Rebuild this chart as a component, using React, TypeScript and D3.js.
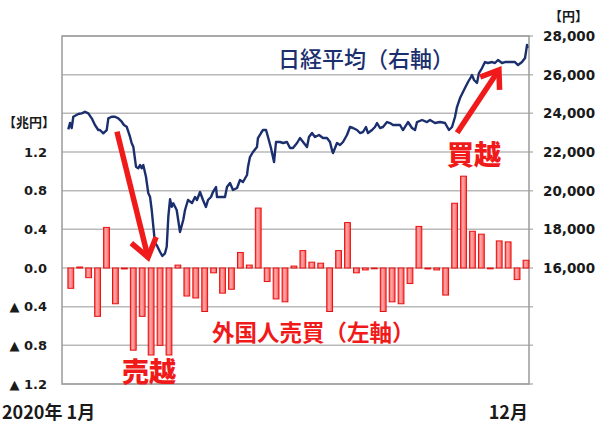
import React from "react";
import * as d3 from "d3";

// Weekly foreign investor net buying (trillion yen), 52 weeks of 2020
const weekIdx = d3.range(52);
const flows = [
  -0.21, 0.01, -0.1, -0.5, 0.42, -0.37, -0.01, -0.85, -0.5, -0.9,
  -0.8, -0.9, 0.03, -0.29, -0.31, -0.45, -0.05, -0.26, -0.22, 0.16,
  0.03, 0.62, -0.14, -0.32, -0.35, 0.02, 0.18, 0.06, 0.05, -0.45,
  0.18, 0.47, -0.05, -0.02, 0, -0.45, -0.35, -0.37, -0.16, 0.43,
  -0.01, -0.02, -0.28, 0.67, 0.95, 0.38, 0.35, 0, 0.28, 0.27,
  -0.12, 0.08,
];

// Nikkei average (yen): position in weeks and value
const nikkeiWeek = [
  0.2, 0.39, 0.58, 0.76, 1.31, 1.69, 2.06, 2.43, 2.81, 3.17, 3.54, 3.73, 4.1, 4.48, 4.66, 5.03,
  5.4, 5.77, 6.15, 6.4, 6.7, 7.07, 7.26, 7.44, 7.74, 7.99, 8.19, 8.37, 8.55, 8.85, 9.11, 9.3,
  9.49, 9.67, 9.86, 10.04, 10.41, 10.67, 10.97, 11.16, 11.34, 11.53, 11.72, 11.89, 12.27, 12.64,
  13.0, 13.2, 13.53, 13.98, 14.31, 14.53, 14.87, 15.2, 15.53, 15.76, 16.09, 16.31, 16.65, 16.76,
  17.32, 17.65, 17.87, 18.21, 18.54, 18.99, 19.32, 19.65, 20.1, 20.21, 20.43, 20.77, 21.21, 21.32,
  21.66, 21.88, 22.22, 22.44, 22.77, 23.11, 23.33, 23.77, 24.11, 24.55, 24.89, 25.22, 25.67, 26.0,
  26.34, 26.78, 27.0, 27.34, 27.67, 28.12, 28.56, 29.01, 29.34, 29.56, 29.68, 30.12, 30.46, 30.79,
  31.23, 31.57, 31.9, 32.35, 32.68, 33.02, 33.35, 33.57, 34.02, 34.35, 34.58, 34.91, 35.24, 35.69,
  36.02, 36.36, 36.8, 37.14, 37.47, 38.03, 38.47, 38.81, 39.03, 39.59, 40.14, 40.48, 41.03, 41.59,
  42.15, 42.59, 42.93, 43.26, 43.48, 43.82, 44.15, 44.37, 44.71, 45.04, 45.15, 45.38, 45.71, 45.93,
  46.27, 46.6, 46.94, 47.38, 47.71, 48.05, 48.49, 48.83, 49.38, 49.94, 50.28, 50.72, 51.06, 51.28,
  51.33,
];
const nikkeiValue = [
  23170, 23500, 23240, 23825, 23965, 24000, 24084, 24000, 23742, 23396, 23137, 23137, 22967, 23137, 23742, 23825,
  23825, 23742, 23567, 23396, 23308, 22791, 22449, 22274, 21239, 21156, 21327, 21156, 21327, 20722, 19863, 19688,
  19000, 18136, 17277, 17190, 16843, 16621, 16760, 17102, 18653, 19553, 19170, 19346, 19000, 17862,
  18483, 19000, 19517, 19362, 19672, 19517, 19931, 19517, 19155, 19517, 19672, 19931, 20189, 19672,
  19672, 19672, 20189, 20396, 20034, 20138, 20551, 20448, 20810, 21224, 21741, 22000, 22258, 22724,
  22982, 23137, 23137, 22775, 22206, 21482, 22517, 22517, 22465, 22517, 22206, 22206, 22465, 22724,
  22517, 22258, 22775, 22982, 22775, 22879, 22724, 22724, 22517, 22103, 21948, 22465, 22362, 22517,
  22879, 23293, 23241, 23137, 22982, 23034, 23293, 22982, 23137, 23293, 23499, 23241, 23293, 23551,
  23499, 23396, 23396, 23396, 23137, 23551, 23241, 23137, 23551, 23655, 23551, 23655, 23499, 23551,
  23499, 23137, 23293, 23810, 24327, 24792, 25103, 25310, 25620, 25879, 25982, 25723, 25568, 26085,
  26344, 26654, 26603, 26654, 26603, 26758, 26603, 26654, 26654, 26654, 26499, 26654, 26861, 27534,
  27378,
];

const leftTicks = [1.2, 0.8, 0.4, 0, -0.4, -0.8, -1.2];
const gridValues = [2.4, 2.0, 1.6, 1.2, 0.8, 0.4, 0, -0.4, -0.8, -1.2];
const rightTicks = [16000, 18000, 20000, 22000, 24000, 26000, 28000];

// Annotation arrows: [week, left-axis value] tail -> tip
const sellArrow = { from: [5.62, 1.41], to: [9.08, 0.11] };
const buyArrow = { from: [43.5, 1.4], to: [48.15, 2.05] };

const W = 600;
const H = 424;
const plot = { left: 62, right: 529, top: 36, bottom: 384 };

const NAVY = "#1b2f6e";
const RED = "#f01a1a";

function arrowPath(x1: number, y1: number, x2: number, y2: number, len: number, ang: number) {
  const a = Math.atan2(y1 - y2, x1 - x2);
  const w1 = [x2 + len * Math.cos(a + ang), y2 + len * Math.sin(a + ang)];
  const w2 = [x2 + len * Math.cos(a - ang), y2 + len * Math.sin(a - ang)];
  return {
    shaft: `M${x1},${y1}L${x2 - 2 * Math.cos(a + Math.PI)},${y2 - 2 * Math.sin(a + Math.PI)}`,
    head: `M${w1[0]},${w1[1]}L${x2},${y2}L${w2[0]},${w2[1]}`,
  };
}

export default function App() {
  const xBar = d3.scalePoint<number>().domain(weekIdx).range([70.8, 526]);
  const xLine = d3.scaleLinear().domain([-0.5, 51.5]).range([plot.left, plot.right]);
  const yL = d3.scaleLinear().domain([-1.2, 2.4]).range([plot.bottom, plot.top]);
  const yR = d3.scaleLinear().domain([10000, 28000]).range([plot.bottom, plot.top]);
  const barW = 5.8;

  const line = d3
    .line<number>()
    .x((_, i) => xLine(nikkeiWeek[i]))
    .y((d) => yR(d));

  const fmt = d3.format(",");
  const leftLabel = (v: number) => (v < 0 ? `▲ ${Math.abs(v).toFixed(1)}` : v.toFixed(1));

  const a1 = arrowPath(
    xLine(sellArrow.from[0]), yL(sellArrow.from[1]),
    xLine(sellArrow.to[0]), yL(sellArrow.to[1]), 22, 0.62
  );
  const a2 = arrowPath(
    xLine(buyArrow.from[0]), yL(buyArrow.from[1]),
    xLine(buyArrow.to[0]), yL(buyArrow.to[1]), 20, 0.62
  );

  const numFont = "'DejaVu Sans', Verdana, sans-serif";
  const jpFont = "'Noto Sans CJK JP', 'DejaVu Sans', sans-serif";

  return (
    <svg
      width={W}
      height={H}
      style={{ position: "absolute", left: 0, top: 0, background: "#fff" }}
    >
      <defs>
        <linearGradient id="barGrad" x1="0" x2="1" y1="0" y2="0">
          <stop offset="0%" stopColor="#ff4a4a" />
          <stop offset="35%" stopColor="#ffa8a8" />
          <stop offset="65%" stopColor="#ff8a8a" />
          <stop offset="100%" stopColor="#ff4a4a" />
        </linearGradient>
      </defs>
      <rect x={0} y={0} width={W} height={H} fill="#fff" />
      {/* grid */}
      {gridValues.map((v) => (
        <line
          key={v}
          x1={plot.left}
          x2={plot.right + 4}
          y1={yL(v)}
          y2={yL(v)}
          stroke="#b9b9b9"
          strokeWidth={1.5}
        />
      ))}
      {/* frame */}
      <rect
        x={plot.left}
        y={plot.top}
        width={plot.right - plot.left}
        height={plot.bottom - plot.top}
        fill="none"
        stroke="#a0a0a0"
        strokeWidth={1.6}
      />
      {/* bars */}
      {flows.map((v, i) => {
        const y0 = yL(0);
        const y1 = yL(v);
        return (
          <rect
            key={i}
            x={(xBar(i) as number) - barW / 2}
            y={Math.min(y0, y1)}
            width={barW}
            height={Math.max(Math.abs(y1 - y0), 0.8)}
            fill="url(#barGrad)"
            stroke="#e81010"
            strokeWidth={1}
          />
        );
      })}
      {/* nikkei line */}
      <path
        d={line(nikkeiValue) || ""}
        fill="none"
        stroke={NAVY}
        strokeWidth={2.4}
        strokeLinejoin="round"
      />
      {/* arrows */}
      <g stroke={RED} fill="none" strokeWidth={5.5}>
        <path d={a1.shaft} />
        <path d={a1.head} strokeLinejoin="miter" strokeLinecap="butt" />
        <path d={a2.shaft} />
        <path d={a2.head} strokeLinejoin="miter" strokeLinecap="butt" />
      </g>
      {/* left axis */}
      {leftTicks.map((v) => (
        <text
          key={v}
          x={47}
          y={yL(v)}
          dy="0.36em"
          textAnchor="end"
          fontFamily={numFont}
          fontWeight="bold"
          fontSize={13}
          fill="#1a1a1a"
        >
          {leftLabel(v)}
        </text>
      ))}
      <text x={3} y={127} fontFamily={jpFont} fontWeight="bold" fontSize={13} fill="#1a1a1a">
        【兆円】
      </text>
      {/* right axis */}
      {rightTicks.map((v) => (
        <text
          key={v}
          x={543}
          y={yR(v)}
          dy="0.36em"
          textAnchor="start"
          fontFamily={numFont}
          fontWeight="bold"
          fontSize={13.5}
          fill="#1a1a1a"
        >
          {fmt(v)}
        </text>
      ))}
      <text x={549} y={21} fontFamily={jpFont} fontWeight="bold" fontSize={13} fill="#1a1a1a">
        【円】
      </text>
      {/* x labels */}
      <text x={2} y={419} fontFamily={jpFont} fontWeight="bold" fontSize={18} fill="#1a1a1a">
        2020年 1月
      </text>
      <text x={528} y={419} textAnchor="end" fontFamily={jpFont} fontWeight="bold" fontSize={18} fill="#1a1a1a">
        12月
      </text>
      {/* series labels */}
      <text x={278} y={67} fontFamily={jpFont} fontWeight={500} fontSize={22} fill={NAVY}>
        日経平均（右軸）
      </text>
      <text x={212} y={341} fontFamily={jpFont} fontWeight="bold" fontSize={22.5} fill={RED}>
        外国人売買（左軸）
      </text>
      <text x={122} y={382} fontFamily={jpFont} fontWeight={900} fontSize={27} fill={RED}>
        売越
      </text>
      <text x={447} y={165} fontFamily={jpFont} fontWeight={900} fontSize={27} fill={RED}>
        買越
      </text>
    </svg>
  );
}
